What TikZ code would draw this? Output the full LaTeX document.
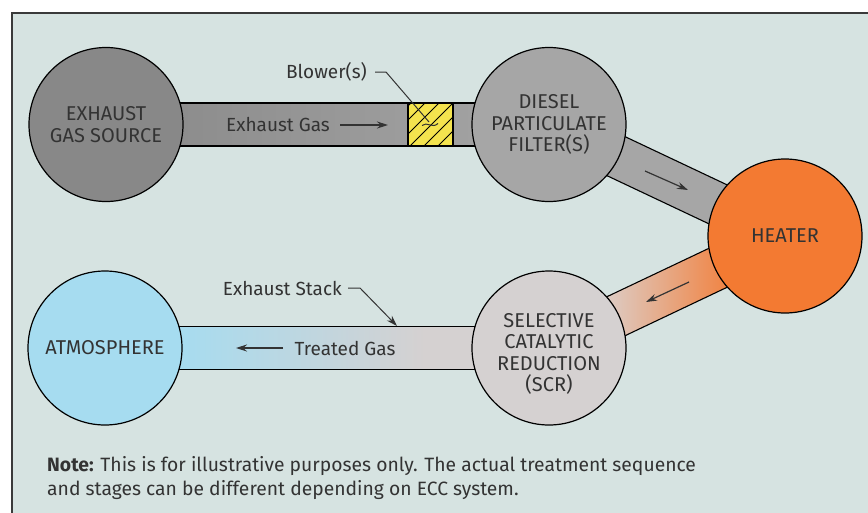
\documentclass[tikz,border=0pt]{standalone}
\usepackage{fontspec}
\setmainfont{Fira Sans}
\usetikzlibrary{calc,arrows.meta}
\definecolor{bgcol}{HTML}{D6E3E1}
\definecolor{framecol}{HTML}{3A3A3A}
\definecolor{srcgray}{HTML}{888888}
\definecolor{dpfgray}{HTML}{A6A6A6}
\definecolor{heatorange}{HTML}{F37A32}
\definecolor{scrgray}{HTML}{D5D1D1}
\definecolor{atmblue}{HTML}{A6DCF0}
\definecolor{blowyellow}{HTML}{F4E44E}
\definecolor{txt}{HTML}{333333}
\definecolor{scrpeach}{HTML}{DCCFCA}
\pgfdeclarelayer{back}
\pgfdeclarelayer{pipes}
\pgfsetlayers{back,pipes,main}
\pgfdeclarehorizontalshading{stackshade}{100bp}{color(0bp)=(atmblue); color(33bp)=(atmblue); color(61bp)=(scrgray); color(100bp)=(scrgray)}
\pgfdeclarehorizontalshading{hotshade}{100bp}{color(0bp)=(scrpeach); color(37bp)=(scrpeach); color(58bp)=(heatorange!75!scrpeach); color(66bp)=(heatorange); color(100bp)=(heatorange)}
\tikzset{
  station/.style={circle, draw=black, line width=1.2pt, minimum size=154pt, inner sep=0pt,
    align=center, text=txt, font=\fontsize{20}{21.5}\selectfont},
  stationtext/.style={align=center, text=txt, inner sep=0pt, font=\fontsize{20}{21.5}\selectfont},
  lbl/.style={text=txt, font=\fontsize{19}{21}\selectfont, inner sep=0pt},
  pipeedge/.style={draw=black, line width=1.1pt},
  flow/.style={line width=1.2pt, draw=txt, -{Stealth[length=11pt,width=7pt]}},
  leader/.style={line width=1pt, draw=txt},
  blowerbox/.style={draw=black, line width=1.1pt, fill=blowyellow, minimum width=45pt,
    minimum height=43pt, inner sep=0pt},
}
\newcommand{\pipepath}[2]{($(#1.center)!21.5pt!90:(#2.center)$) -- ($(#2.center)!21.5pt!-90:(#1.center)$) -- ($(#2.center)!21.5pt!90:(#1.center)$) -- ($(#1.center)!21.5pt!-90:(#2.center)$) -- cycle}
\begin{document}
\begin{tikzpicture}[x=1pt,y=-1pt]
\useasboundingbox (0,0) rectangle (868,512);
\begin{pgfonlayer}{back}
\fill[white] (0,0) rectangle (868,512);
\draw[fill=bgcol, draw=framecol, line width=2pt] (11.5,12.5) rectangle (900,540);
\end{pgfonlayer}

% stations
\node[station, fill=srcgray] (src) at (106,124.5) {EXHAUST\\GAS SOURCE};
\node[station, fill=dpfgray] (dpf) at (549,124.5) {DIESEL\\PARTICULATE\\FILTER(S)};
\node[station, fill=heatorange] (heat) at (785,236) {HEATER};
\node[station, fill=scrgray] (scr) at (549,348) {};
\node[stationtext] (scrtxt) at ($(scr.center)+(0,6)$) {SELECTIVE\\CATALYTIC\\REDUCTION\\(SCR)};
\node[station, fill=atmblue] (atm) at (105,348) {ATMOSPHERE};

% pipes
\begin{pgfonlayer}{pipes}
\shade[pipeedge, left color=srcgray, right color=dpfgray] \pipepath{src}{dpf};
\fill[dpfgray] \pipepath{dpf}{heat};
\draw[pipeedge] \pipepath{dpf}{heat};
\shade[pipeedge, shading=hotshade] \pipepath{scr}{heat};
\shade[pipeedge, shading=stackshade] \pipepath{atm}{scr};
\end{pgfonlayer}

% blower
\node[blowerbox] (blw) at (430.5,124.5) {};
\begin{scope}
\clip (blw.south west) rectangle (blw.north east);
\foreach \k in {0,...,6}
  \draw[line width=1pt] ($(blw.south west)+(\k*14-40,0)$) -- ++(55,-55);
\end{scope}
\draw[line width=1.1pt] (blw.south west) rectangle (blw.north east);

% labels and arrows
\node[lbl, anchor=east] (blwlbl) at (367,72) {Blower(s)};
\coordinate (blwtip) at (429,122);
\draw[leader] ($(blwlbl.east)+(8,0)$) -- ++(11,0) -- (blwtip);
\draw[leader] (422,125.5) .. controls (427,121) and (432,129) .. (438,123.5);

\node[lbl] (eg) at (278,125) {Exhaust Gas};
\coordinate (eg1) at (340,125);
\coordinate (eg2) at (388,125);
\draw[flow] (eg1) -- (eg2);

\coordinate (dh1) at (645,171);
\coordinate (dh2) at (688,190);
\draw[flow] (dh1) -- (dh2);

\coordinate (hs1) at (689,282);
\coordinate (hs2) at (646,302);
\draw[flow] (hs1) -- (hs2);

\node[lbl] (tg) at (345,348) {Treated Gas};
\coordinate (tg1) at (283,348);
\coordinate (tg2) at (236,348);
\draw[flow] (tg1) -- (tg2);

\node[lbl, anchor=east] (es) at (342,288) {Exhaust Stack};
\coordinate (estip) at (397,326);
\draw[leader, -{Stealth[length=11pt,width=7pt]}] ($(es.east)+(6,0)$) -- ++(12,0) -- (estip);

\node[anchor=north west, align=left, inner sep=0pt, text=txt,
  font=\fontsize{19.3}{24}\selectfont] (note) at (47,456)
  {\textbf{Note:} This is for illustrative purposes only. The actual treatment sequence\\and stages can be different depending on ECC system.};
\end{tikzpicture}
\end{document}
